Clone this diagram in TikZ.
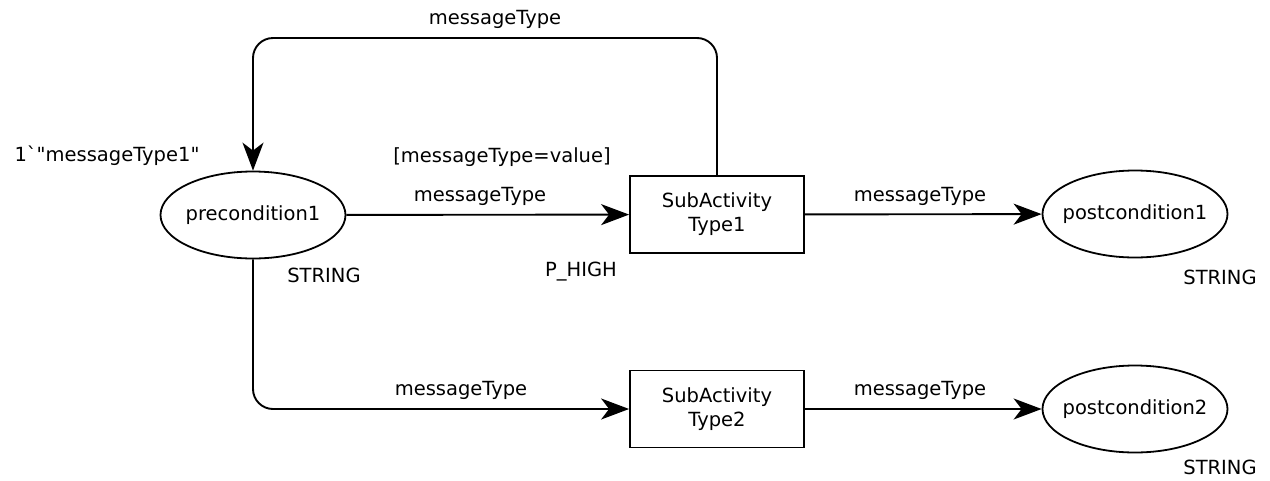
\documentclass[tikz,border=0pt]{standalone}
\usepackage{fontspec}
\newfontfamily\dvs{DejaVu Sans}
\usetikzlibrary{shapes.geometric,arrows.meta}
\begin{document}
\begin{tikzpicture}[x=1pt,y=-1pt,
  every node/.style={font=\dvs\fontsize{19.5}{24}\selectfont, inner sep=0pt},
  place/.style={draw, ellipse, line width=1.8pt, inner xsep=-16pt, minimum width=185pt, minimum height=87pt},
  trans/.style={draw, rectangle, line width=1.8pt, minimum width=174pt, minimum height=77pt, align=center},
  arr/.style={line width=1.9pt, -{Stealth[length=28pt,width=21pt,inset=8pt]}},
  lbl/.style={anchor=center}]
\useasboundingbox (0,0) rectangle (1270,480);
\node[place] (pre) at (253,215) {precondition1};
\node[trans] (t1) at (717,214.5) {SubActivity\\Type1};
\node[place] (post1) at (1135,214) {postcondition1};
\node[trans] (t2) at (717,409) {SubActivity\\Type2};
\node[place] (post2) at (1135,409) {postcondition2};
\coordinate (topL) at (253,38);
\coordinate (botL) at (253,409);
\draw[arr, rounded corners=20pt] (t1.north) |- (topL) -- (pre.north);
\draw[arr] (pre) -- (t1);
\draw[arr] (t1) -- (post1);
\draw[arr, rounded corners=20pt] (pre.south) -- (botL) -- (t2.west);
\draw[arr] (t2) -- (post2);
\node[lbl] (l1) at (495,19) {messageType};
\node[lbl] (l2) at (107,156) {1`"messageType1"};
\node[lbl] (l3) at (502,157) {[messageType=value]};
\node[lbl] (l4) at (480,196) {messageType};
\node[lbl] (l5) at (581,272) {P\_HIGH};
\node[lbl] (l6) at (324,275) {STRING};
\node[lbl] (l7) at (920,196) {messageType};
\node[lbl] (l8) at (1220,277) {STRING};
\node[lbl] (l9) at (461,390) {messageType};
\node[lbl] (l10) at (920,390) {messageType};
\node[lbl] (l11) at (1220,467) {STRING};
\end{tikzpicture}
\end{document}
